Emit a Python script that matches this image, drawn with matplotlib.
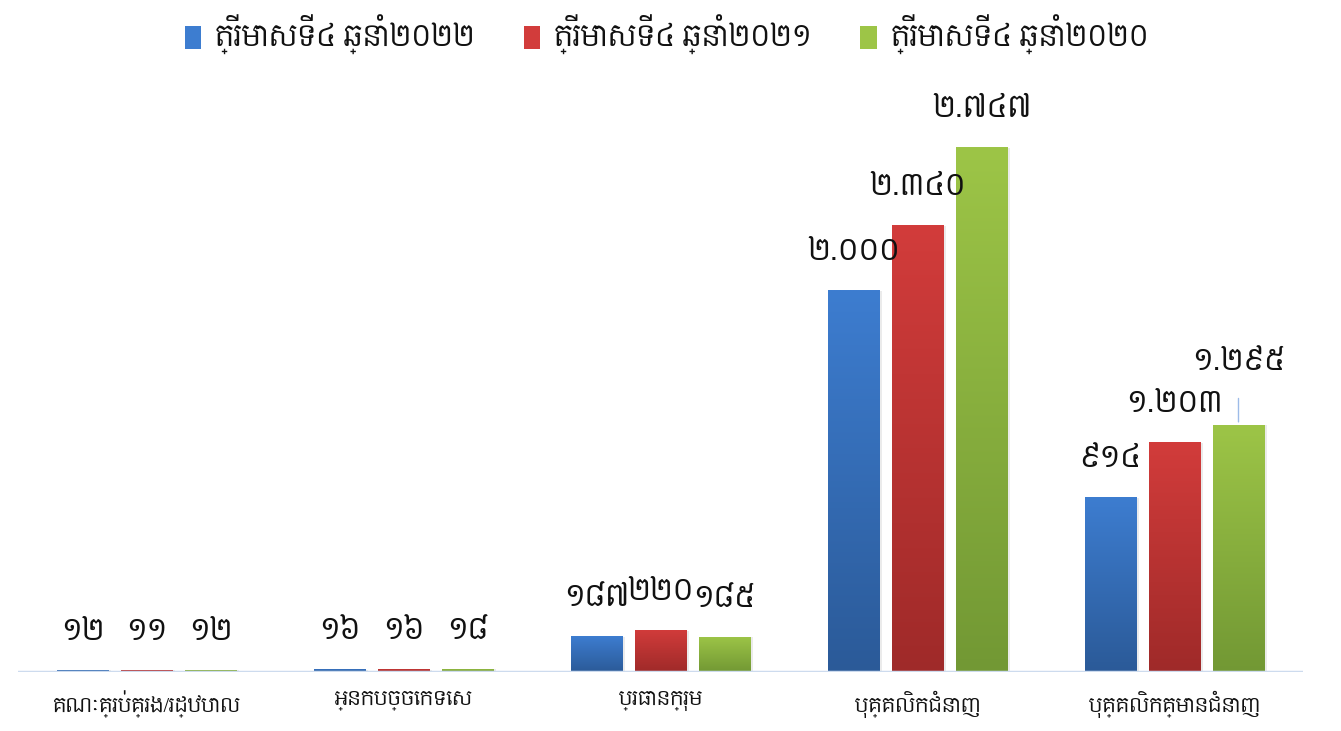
import numpy as np
import matplotlib
matplotlib.use("Agg")
import matplotlib.pyplot as plt
from matplotlib.patches import Patch, Rectangle
from matplotlib.colors import LinearSegmentedColormap

categories = ["គណៈគ្រប់គ្រង/រដ្ឋបាល", "អ្នកបច្ចេកទេស", "ប្រធានក្រុម", "បុគ្គលិកជំនាញ", "បុគ្គលិកគ្មានជំនាញ"]
series_names = ["ត្រីមាសទី៤ ឆ្នាំ២០២២", "ត្រីមាសទី៤ ឆ្នាំ២០២១", "ត្រីមាសទី៤ ឆ្នាំ២០២០"]
q4_2022 = [12, 16, 187, 2000, 914]
q4_2021 = [11, 16, 220, 2340, 1203]
q4_2020 = [12, 18, 185, 2747, 1295]
labels_2022 = ["១២", "១៦", "១៨៧", "២.០០០", "៩១៤"]
labels_2021 = ["១១", "១៦", "២២០", "២.៣៤០", "១.២០៣"]
labels_2020 = ["១២", "១៨", "១៨៥", "២.៧៤៧", "១.២៩៥"]

plt.rcParams['font.family'] = ["Content", "DejaVu Sans"]

series = [q4_2022, q4_2021, q4_2020]
labels = [labels_2022, labels_2021, labels_2020]
# (top colour, bottom colour)
grads = [("#3d7dd0", "#2b5a98"), ("#d23c3b", "#9f2a29"), ("#9dc547", "#729834")]

fig = plt.figure(figsize=(13.41, 7.31), dpi=100)
ax = fig.add_axes([18 / 1341, 59 / 731, 1285 / 1341, 573 / 731])
ax.set_xlim(-0.5, 4.5)
ax.set_ylim(0, 3000)
for s in ax.spines.values():
    s.set_visible(False)
ax.tick_params(left=False, labelleft=False, bottom=False)
ax.set_yticks([])

x = np.arange(len(categories))
width = 0.202
step = 0.249
px = 72 / 100.0  # points per pixel

for i, (vals, labs, (ctop, cbot)) in enumerate(zip(series, labels, grads)):
    pos = x + (i - 1) * step
    bars = ax.bar(pos, vals, width, color="none", edgecolor="none", zorder=3)
    cmap = LinearSegmentedColormap.from_list("g%d" % i, [cbot, ctop])
    grad = np.linspace(1, 0, 256).reshape(-1, 1)
    for b in bars:
        x0, w, h = b.get_x(), b.get_width(), b.get_height()
        # soft shadow
        ax.add_patch(Rectangle((x0 + 0.004, -5), w + 0.006, h + 2, facecolor="#000000",
                               alpha=0.08, edgecolor="none", zorder=2))
        im = ax.imshow(grad, extent=(x0, x0 + w, 0, h), aspect="auto",
                       cmap=cmap, vmin=0, vmax=1, origin="upper", zorder=3)
        im.set_clip_path(b)
    for j, (b, lab) in enumerate(zip(bars, labs)):
        off = 38
        if i == 2 and j == 4:
            off = 63
        ax.annotate(lab, (b.get_x() + b.get_width() / 2, b.get_height()),
                    xytext=(0, off * px), textcoords="offset points",
                    ha="center", va="center", fontsize=21, color="#111111", zorder=5)
        if i == 2 and j == 4:
            ax.annotate("", (b.get_x() + b.get_width() / 2, b.get_height()),
                        xytext=(0, 29 * px), textcoords="offset points",
                        arrowprops=dict(arrowstyle="-", color="#9dbbe8", lw=1.0), zorder=4)

ax.set_xlim(-0.5, 4.5)
ax.set_ylim(0, 3000)
ax.axhline(0, color="#cddbee", lw=2.5, zorder=4)

ax.set_xticks(x)
ax.set_xticklabels(categories, fontsize=14, color="#111111")
ax.tick_params(axis="x", pad=10)

handles = [Patch(facecolor=c[0], edgecolor="none") for c in grads]
leg = fig.legend(handles, series_names, loc="center", bbox_to_anchor=(0.497, 0.952),
                 ncol=3, frameon=False, fontsize=20, handlelength=0.6, handleheight=0.9,
                 handletextpad=0.5, columnspacing=1.75)
for t in leg.get_texts():
    t.set_color("#111111")

fig.savefig("out.png", dpi=100)
